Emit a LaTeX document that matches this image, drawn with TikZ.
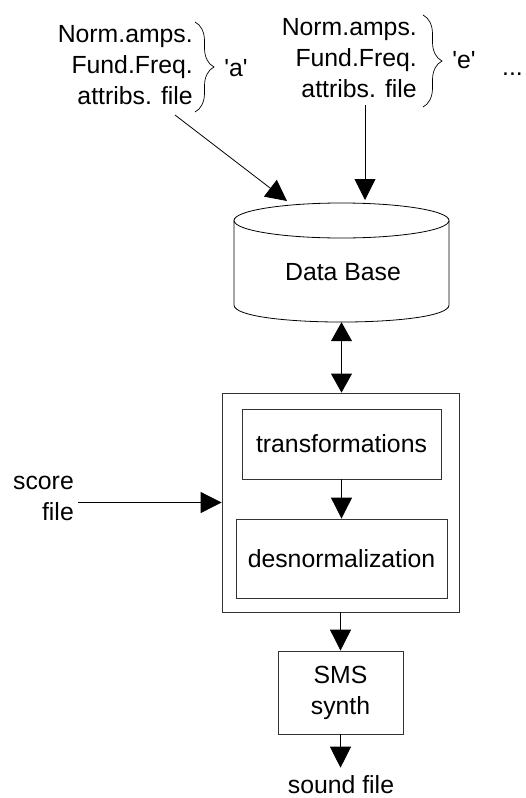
\documentclass[tikz,border=0pt]{standalone}
\usepackage{fontspec}
\setmainfont{Liberation Sans}
\usetikzlibrary{arrows.meta,decorations.pathreplacing}
\begin{document}
\begin{tikzpicture}[x=1pt,y=-1pt,
  every node/.style={font=\fontsize{24.8pt}{31pt}\selectfont, inner sep=0pt},
  arr/.style={line width=0.8pt, -{Triangle[length=21pt,width=21pt]}},
  darr/.style={line width=0.8pt, {Triangle[length=19pt,width=21pt]}-{Triangle[length=19pt,width=21pt]}},
  boxx/.style={draw=black!80, line width=0.8pt, inner sep=0pt},
  brc/.style={line width=0.7pt, decorate, decoration={brace, amplitude=19pt}},
  txt/.style={align=right, anchor=east}]
\useasboundingbox (0,0) rectangle (526,798);
% input file groups
\node[txt] (fa) at (193,65) {Norm.amps.\\Fund.Freq.\\attribs. file};
\node[txt] (fe) at (417,58) {Norm.amps.\\Fund.Freq.\\attribs. file};
\draw[brc] (195,22) -- (195,112);
\draw[brc] (423,15) -- (423,107);
\node (la) at (236,68) {\textquotesingle a\textquotesingle};
\node (le) at (464,60) {\textquotesingle e\textquotesingle};
\node[anchor=base west] (dots) at (502,75) {...};
% data base cylinder
\node[minimum width=215pt, minimum height=119pt] (db) at (341.5,262.5) {};
\draw[line width=0.8pt] (341.5,220.5) ellipse [x radius=107.5pt, y radius=17.5pt];
\draw[line width=0.8pt] (234,220.5) -- (234,305) .. controls (234,327.7) and (449,327.7) .. (449,305) -- (449,220.5);
\node (dbl) at (343,272) {Data Base};
\coordinate (in1) at (287,201);
\coordinate (in2) at (365,200);
\coordinate (s1) at (175,115);
\coordinate (s2) at (365,105);
\draw[arr] (s1) -- (in1);
\draw[arr] (s2) -- (in2);
% processing box
\node[boxx, minimum width=237pt, minimum height=219pt] (outer) at (340.5,502.5) {};
\node[boxx, minimum width=199pt, minimum height=70pt] (trans) at (341.5,444) {transformations};
\node[boxx, minimum width=211pt, minimum height=79pt] (desn) at (341.5,558.5) {desnormalization};
\draw[darr] (db.south) -- (db.south |- outer.north);
\draw[arr] (trans.south) -- (desn.north);
% score
\node[txt] (score) at (74,498) {score\\file};
\draw[arr] ([xshift=4pt]score.east |- outer.west) -- (outer.west);
% synth
\node[boxx, minimum width=125pt, minimum height=83pt, align=center] (sms) at (340.5,692.5) {SMS\\synth};
\draw[arr] (outer.south) -- (sms.north);
\node[inner ysep=8pt] (sound) at (341,785) {sound file};
\draw[arr] (sms.south) -- (sms.south |- sound.north);
\end{tikzpicture}
\end{document}
